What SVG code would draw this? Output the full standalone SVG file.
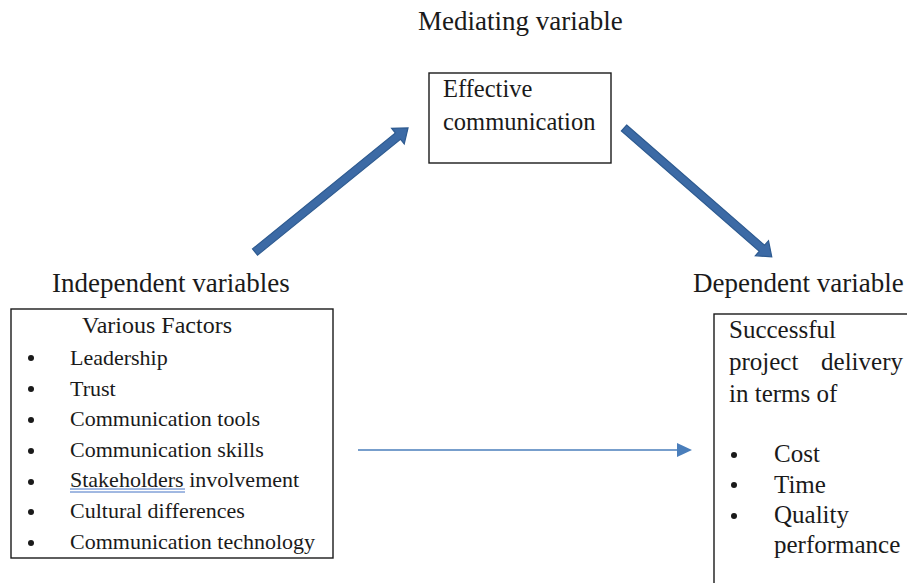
<svg xmlns="http://www.w3.org/2000/svg" width="907" height="583" viewBox="0 0 907 583">
<style>
  text { font-family: "Liberation Serif", "Times New Roman", serif; fill: #1a1a1a; }
  .hd { font-size: 27px; }
  .bx { fill: #ffffff; stroke: #1a1a1a; stroke-width: 1.4; }
  .it { font-size: 22px; }
  .mt { font-size: 24.5px; }
  .rt { font-size: 25px; }
  .bul { fill: #1a1a1a; }
  .fat { fill: #3c6aa5; stroke: #2d5a90; stroke-width: 1.2; }
  .thin { stroke: #4a7ebb; stroke-width: 1.5; fill: none; }
</style>
<rect width="907" height="583" fill="#ffffff"/>

<g id="labels">
  <text class="hd" x="418" y="30">Mediating variable</text>
  <text class="hd" x="52" y="292">Independent variables</text>
  <text class="hd" x="693" y="292">Dependent variable</text>
</g>

<g id="connectors">
  <path class="fat" d="M0,-4 H184 V-10 L197,0 L184,10 V4 H0 Z" transform="translate(255,252) rotate(-39.03)"/>
  <path class="fat" d="M0,-4 H183 V-10 L196,0 L183,10 V4 H0 Z" transform="translate(624,128) rotate(41.08)"/>
  <line class="thin" x1="358" y1="450" x2="679" y2="450"/>
  <polygon points="677,443 692,450 677,457" fill="#4a7ebb"/>
</g>

<g id="mediating">
  <rect class="bx" x="429" y="73" width="182" height="90"/>
  <text class="mt" x="443" y="97">Effective</text>
  <text class="mt" x="443" y="130">communication</text>
</g>

<g id="independent">
  <rect class="bx" x="11" y="309" width="322" height="249"/>
  <text x="82" y="333" font-size="24">Various Factors</text>
  <circle class="bul" cx="31" cy="358" r="3"/>
  <text class="it" x="70" y="365">Leadership</text>
  <circle class="bul" cx="31" cy="389" r="3"/>
  <text class="it" x="70" y="396">Trust</text>
  <circle class="bul" cx="31" cy="420" r="3"/>
  <text class="it" x="70" y="426">Communication tools</text>
  <circle class="bul" cx="31" cy="451" r="3"/>
  <text class="it" x="70" y="457">Communication skills</text>
  <circle class="bul" cx="31" cy="482" r="3"/>
  <text class="it" x="70" y="487">Stakeholders involvement</text>
  <line x1="70" y1="489" x2="185" y2="489" stroke="#4472c4" stroke-width="1"/>
  <line x1="70" y1="492" x2="185" y2="492" stroke="#4472c4" stroke-width="1"/>
  <circle class="bul" cx="31" cy="512" r="3"/>
  <text class="it" x="70" y="518">Cultural differences</text>
  <circle class="bul" cx="31" cy="543" r="3"/>
  <text class="it" x="70" y="549">Communication technology</text>
</g>

<g id="dependent">
  <rect class="bx" x="714" y="314" width="210" height="290"/>
  <text class="rt" x="729" y="338">Successful</text>
  <text class="rt" x="729" y="370">project</text>
  <text class="rt" x="903" y="370" text-anchor="end">delivery</text>
  <text class="rt" x="729" y="402">in terms of</text>
  <circle class="bul" cx="734" cy="455" r="3"/>
  <text class="rt" x="774" y="462">Cost</text>
  <circle class="bul" cx="734" cy="485" r="3"/>
  <text class="rt" x="774" y="493">Time</text>
  <circle class="bul" cx="734" cy="516" r="3"/>
  <text class="rt" x="774" y="523">Quality</text>
  <text class="rt" x="774" y="553">performance</text>
</g>
</svg>
